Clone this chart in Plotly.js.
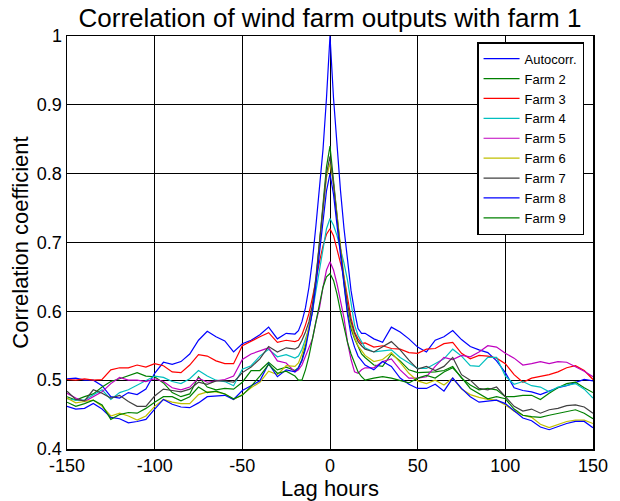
<!DOCTYPE html>
<html>
<head>
<meta charset="utf-8">
<script src="https://cdn.plot.ly/plotly-3.0.1.min.js"></script>
<style>
  html, body { margin: 0; padding: 0; background: #ffffff; }
  #chart { width: 620px; height: 501px; }
</style>
</head>
<body>
<div id="chart"></div>
<script>
// Lag axis (hours): 5 h steps on the wings, 2 h steps around the peak
const lagHours = [-150,-145,-140,-135,-130,-125,-120,-115,-110,-105,-100,-95,-90,-85,-80,-75,-70,-65,-60,-55,-50,-45,-40,-35,-30,-25,-20,
  -18,-16,-14,-12,-10,-8,-6,-4,-2,0,2,4,6,8,10,12,14,16,18,
  20,25,30,35,40,45,50,55,60,65,70,75,80,85,90,95,100,105,110,115,120,125,130,135,140,145,150];

const xTickVals = [-150, -100, -50, 0, 50, 100, 150];
const xTickText = ['-150', '-100', '-50', '0', '50', '100', '150'];

const seriesNames = ['Autocorr.', 'Farm 2', 'Farm 3', 'Farm 4', 'Farm 5', 'Farm 6', 'Farm 7', 'Farm 8', 'Farm 9'];

const autocorr = [0.502,0.503,0.500,0.500,0.492,0.476,0.474,0.482,0.479,0.487,0.510,0.526,0.523,0.527,0.538,0.558,0.571,0.563,0.557,0.541,0.553,0.558,0.566,0.577,0.560,0.568,0.567,
  0.572,0.585,0.605,0.635,0.675,0.725,0.775,0.835,0.910,1.000,0.910,0.835,0.775,0.720,0.670,0.630,0.600,0.575,0.568,
  0.568,0.560,0.555,0.577,0.570,0.560,0.548,0.541,0.558,0.563,0.572,0.559,0.549,0.544,0.540,0.528,0.511,0.489,0.485,0.483,0.479,0.484,0.489,0.492,0.497,0.501,0.499];

const farm2 = [0.476,0.471,0.476,0.480,0.490,0.498,0.502,0.507,0.511,0.506,0.505,0.496,0.482,0.476,0.480,0.505,0.490,0.486,0.488,0.487,0.497,0.514,0.514,0.526,0.515,0.519,0.514,
  0.518,0.530,0.550,0.575,0.600,0.645,0.695,0.755,0.810,0.840,0.790,0.740,0.685,0.640,0.600,0.575,0.560,0.548,0.538,
  0.533,0.522,0.520,0.538,0.528,0.515,0.511,0.511,0.512,0.514,0.520,0.503,0.493,0.486,0.488,0.486,0.476,0.476,0.478,0.478,0.472,0.481,0.489,0.495,0.497,0.489,0.482];

const farm3 = [0.501,0.500,0.502,0.500,0.501,0.515,0.518,0.518,0.522,0.519,0.524,0.521,0.512,0.511,0.522,0.537,0.535,0.528,0.524,0.524,0.550,0.557,0.563,0.569,0.555,0.558,0.556,
  0.558,0.566,0.580,0.597,0.620,0.647,0.672,0.695,0.712,0.720,0.710,0.690,0.670,0.650,0.620,0.590,0.570,0.560,0.553,
  0.554,0.548,0.550,0.546,0.545,0.540,0.539,0.545,0.546,0.553,0.555,0.539,0.531,0.536,0.535,0.532,0.524,0.508,0.497,0.503,0.505,0.508,0.512,0.518,0.521,0.514,0.501];

const farm4 = [0.473,0.471,0.471,0.478,0.486,0.472,0.482,0.486,0.493,0.499,0.506,0.504,0.498,0.495,0.502,0.514,0.506,0.500,0.498,0.492,0.516,0.521,0.535,0.545,0.534,0.537,0.532,
  0.535,0.545,0.560,0.575,0.600,0.630,0.665,0.695,0.720,0.735,0.725,0.710,0.690,0.670,0.645,0.610,0.580,0.565,0.555,
  0.547,0.541,0.542,0.544,0.533,0.525,0.517,0.517,0.524,0.531,0.545,0.535,0.521,0.520,0.533,0.533,0.506,0.494,0.498,0.492,0.490,0.483,0.490,0.493,0.495,0.487,0.474];

const farm5 = [0.481,0.474,0.469,0.476,0.483,0.495,0.504,0.500,0.500,0.498,0.502,0.498,0.489,0.486,0.490,0.503,0.497,0.499,0.501,0.506,0.530,0.538,0.542,0.547,0.528,0.525,0.512,
  0.515,0.522,0.535,0.548,0.560,0.585,0.605,0.635,0.660,0.672,0.660,0.640,0.615,0.590,0.555,0.530,0.512,0.510,0.515,
  0.518,0.518,0.527,0.531,0.515,0.503,0.503,0.505,0.520,0.533,0.530,0.536,0.534,0.541,0.550,0.548,0.539,0.532,0.522,0.524,0.527,0.524,0.527,0.526,0.520,0.513,0.505];

const farm6 = [0.474,0.467,0.469,0.471,0.462,0.448,0.452,0.448,0.442,0.448,0.462,0.472,0.468,0.466,0.466,0.479,0.483,0.483,0.480,0.472,0.479,0.489,0.497,0.513,0.508,0.521,0.520,
  0.525,0.538,0.555,0.578,0.605,0.648,0.700,0.750,0.795,0.815,0.785,0.740,0.690,0.650,0.610,0.580,0.562,0.550,0.543,
  0.536,0.527,0.530,0.540,0.526,0.510,0.499,0.495,0.500,0.493,0.503,0.487,0.479,0.475,0.472,0.471,0.464,0.455,0.449,0.446,0.436,0.431,0.436,0.440,0.442,0.442,0.437];

const farm7 = [0.484,0.472,0.470,0.486,0.481,0.474,0.478,0.469,0.462,0.462,0.477,0.487,0.485,0.483,0.487,0.497,0.494,0.499,0.499,0.497,0.511,0.519,0.531,0.549,0.541,0.547,0.545,
  0.548,0.558,0.570,0.585,0.610,0.650,0.700,0.755,0.800,0.825,0.785,0.735,0.685,0.645,0.610,0.585,0.568,0.556,0.550,
  0.545,0.541,0.548,0.556,0.544,0.529,0.516,0.520,0.514,0.520,0.533,0.508,0.500,0.488,0.486,0.490,0.476,0.462,0.455,0.458,0.452,0.457,0.459,0.463,0.464,0.461,0.452];

const farm8 = [0.462,0.458,0.459,0.466,0.458,0.446,0.444,0.438,0.440,0.443,0.458,0.472,0.465,0.461,0.460,0.467,0.476,0.477,0.478,0.472,0.485,0.492,0.499,0.524,0.505,0.515,0.512,
  0.518,0.528,0.545,0.570,0.600,0.640,0.685,0.735,0.775,0.800,0.770,0.725,0.680,0.635,0.595,0.565,0.548,0.535,0.528,
  0.522,0.515,0.527,0.520,0.503,0.494,0.488,0.488,0.494,0.484,0.503,0.488,0.476,0.468,0.469,0.471,0.466,0.456,0.445,0.441,0.432,0.428,0.433,0.437,0.440,0.440,0.431];

const farm9 = [0.468,0.462,0.466,0.471,0.464,0.443,0.450,0.453,0.452,0.459,0.468,0.476,0.476,0.470,0.476,0.490,0.482,0.484,0.480,0.473,0.478,0.491,0.506,0.523,0.510,0.513,0.506,
  0.500,0.500,0.515,0.535,0.560,0.590,0.615,0.635,0.650,0.655,0.645,0.625,0.600,0.575,0.555,0.538,0.525,0.512,0.505,
  0.500,0.503,0.505,0.503,0.500,0.496,0.503,0.507,0.503,0.512,0.518,0.504,0.488,0.481,0.473,0.476,0.473,0.458,0.449,0.447,0.446,0.449,0.452,0.455,0.457,0.452,0.444];

const allSeries = [autocorr, farm2, farm3, farm4, farm5, farm6, farm7, farm8, farm9];

// Classic line colour order, cycling back to blue and green
const lineColors = ['#0000ff', '#008000', '#ff0000', '#00bfbf', '#bf00bf', '#bfbf00', '#404040', '#0000ff', '#008000'];

const FONT = 'Liberation Sans, Arial, Helvetica, sans-serif';

const traces = allSeries.map((vals, i) => ({
  type: 'scatter',
  mode: 'lines',
  name: seriesNames[i],
  x: lagHours,
  y: vals,
  line: { color: lineColors[i], width: 1.2 },
  hoverinfo: 'skip'
}));

const layout = {
  width: 620,
  height: 501,
  margin: { l: 67, r: 27, t: 36, b: 52, pad: 0 },
  paper_bgcolor: '#ffffff',
  plot_bgcolor: '#ffffff',
  font: { family: FONT, color: '#000000' },
  showlegend: true,
  title: {
    text: 'Correlation of wind farm outputs with farm 1',
    font: { family: FONT, size: 26, color: '#000000' },
    xref: 'paper', x: 0.5, xanchor: 'center',
    yref: 'container', y: 0.964, yanchor: 'middle'
  },
  xaxis: {
    range: [-150, 150],
    tickmode: 'array',
    tickvals: xTickVals,
    ticktext: xTickText,
    showgrid: true, gridcolor: '#000000', gridwidth: 1,
    zeroline: false,
    showline: true, linecolor: '#000000', linewidth: 1.5, mirror: true,
    ticks: '',
    tickfont: { family: FONT, size: 18, color: '#000000' },
    title: { text: 'Lag hours', font: { family: FONT, size: 22, color: '#000000' }, standoff: 2 },
    fixedrange: true
  },
  yaxis: {
    range: [0.4, 1],
    tickmode: 'linear', tick0: 0.4, dtick: 0.1,
    showgrid: true, gridcolor: '#000000', gridwidth: 1,
    zeroline: false,
    showline: true, linecolor: '#000000', linewidth: 1.5, mirror: true,
    ticks: '',
    tickfont: { family: FONT, size: 18, color: '#000000' },
    title: { text: 'Correlation coefficient', font: { family: FONT, size: 22, color: '#000000' }, standoff: 2 },
    fixedrange: true
  },
  legend: {
    x: 0.983, xanchor: 'right',
    y: 0.985, yanchor: 'top',
    bgcolor: '#ffffff',
    bordercolor: '#000000', borderwidth: 1.5,
    font: { family: FONT, size: 13, color: '#000000' },
    itemwidth: 36,
    tracegroupgap: 0
  }
};

Plotly.newPlot('chart', traces, layout, { displayModeBar: false, staticPlot: true });
</script>
</body>
</html>
